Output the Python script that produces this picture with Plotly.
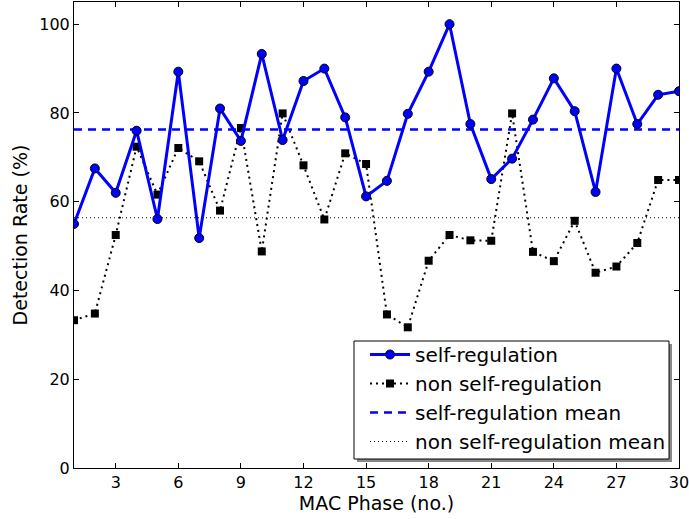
import numpy as np
import plotly.graph_objects as go

phases = list(range(1, 31))
self_reg = [55.0, 67.5, 62.0, 76.0, 56.1, 89.3, 51.8, 81.0, 73.7, 93.3,
            73.9, 87.2, 90.0, 79.0, 61.2, 64.7, 79.8, 89.3, 100.0, 77.5,
            65.1, 69.7, 78.5, 87.8, 80.4, 62.2, 90.0, 77.5, 84.1, 84.9]
non_self_reg = [33.3, 34.8, 52.5, 72.4, 61.6, 72.1, 69.1, 58.0, 76.6, 48.8,
                79.9, 68.2, 56.0, 70.9, 68.5, 34.6, 31.7, 46.7, 52.5, 51.3,
                51.2, 79.9, 48.7, 46.6, 55.7, 44.0, 45.4, 50.7, 64.9, 64.9]
x_ticks = [3, 6, 9, 12, 15, 18, 21, 24, 27, 30]
y_ticks = [0, 20, 40, 60, 80, 100]

self_mean = float(np.mean(self_reg))
non_mean = float(np.mean(non_self_reg))

FONT = "DejaVu Sans"
fig = go.Figure()

fig.add_trace(go.Scatter(
    x=[phases[0], phases[-1]], y=[self_mean, self_mean], mode="lines",
    line=dict(color="#0000ff", width=2.5, dash="8px,6px"),
    name="self-regulation mean", showlegend=False))
fig.add_trace(go.Scatter(
    x=[phases[0], phases[-1]], y=[non_mean, non_mean], mode="lines",
    line=dict(color="black", width=1, dash="1px,3px"),
    name="non self-regulation mean", showlegend=False))
fig.add_trace(go.Scatter(
    x=phases, y=non_self_reg, mode="lines+markers", name="non self-regulation",
    line=dict(color="black", width=2, dash="2px,4px"),
    marker=dict(symbol="square", size=8, color="black"), showlegend=False))
fig.add_trace(go.Scatter(
    x=phases, y=self_reg, mode="lines+markers", name="self-regulation",
    line=dict(color="#0000ff", width=3),
    marker=dict(symbol="circle", size=9, color="#0000ff",
                line=dict(color="black", width=1)), showlegend=False))

# legend-only entries in matplotlib order
fig.add_trace(go.Scatter(
    x=[None], y=[None], mode="lines+markers", name="self-regulation",
    line=dict(color="#0000ff", width=3),
    marker=dict(symbol="circle", size=9, color="#0000ff",
                line=dict(color="black", width=1))))
fig.add_trace(go.Scatter(
    x=[None], y=[None], mode="lines+markers", name="non self-regulation",
    line=dict(color="black", width=2, dash="2px,4px"),
    marker=dict(symbol="square", size=8, color="black")))
fig.add_trace(go.Scatter(
    x=[None], y=[None], mode="lines", name="self-regulation mean",
    line=dict(color="#0000ff", width=2.5, dash="8px,6px")))
fig.add_trace(go.Scatter(
    x=[None], y=[None], mode="lines", name="non self-regulation mean",
    line=dict(color="black", width=1, dash="1px,3px")))

axis_common = dict(
    showline=True, linecolor="black", linewidth=1, mirror="ticks",
    ticks="inside", ticklen=5, tickwidth=1, tickcolor="black",
    showgrid=False, zeroline=False, automargin=False,
    ticklabeloverflow="allow",
    tickfont=dict(family=FONT, size=16, color="black"),
)

fig.update_xaxes(range=[1, 30], tickvals=x_ticks,
                 title=dict(text="MAC Phase (no.)", font=dict(family=FONT, size=19, color="black"), standoff=4),
                 **axis_common)
fig.update_yaxes(range=[0, 105], tickvals=y_ticks,
                 title=dict(text="Detection Rate (%)", font=dict(family=FONT, size=19, color="black"), standoff=6),
                 **axis_common)

# legend frame: shadow then white box with black border
fig.add_shape(type="rect", xref="paper", yref="paper",
              x0=0.4678, x1=0.9884, y0=0.0129, y1=0.2661,
              fillcolor="#888888", line=dict(width=0), layer="above")
fig.add_shape(type="rect", xref="paper", yref="paper",
              x0=0.4628, x1=0.9835, y0=0.0193, y1=0.2725,
              fillcolor="white", line=dict(color="black", width=1), layer="above")

fig.update_layout(
    width=689, height=519,
    margin=dict(l=74, r=10, t=2, b=51),
    paper_bgcolor="white", plot_bgcolor="white",
    font=dict(family=FONT, color="black"),
    hovermode=False,
    legend=dict(x=0.481, y=0.015, xanchor="left", yanchor="bottom",
                bgcolor="rgba(0,0,0,0)", borderwidth=0,
                font=dict(family=FONT, size=20, color="black"),
                tracegroupgap=0, itemwidth=40),
)

fig.write_html("out.html", post_script="document.body.style.margin='0';",
               config={"displayModeBar": False})
